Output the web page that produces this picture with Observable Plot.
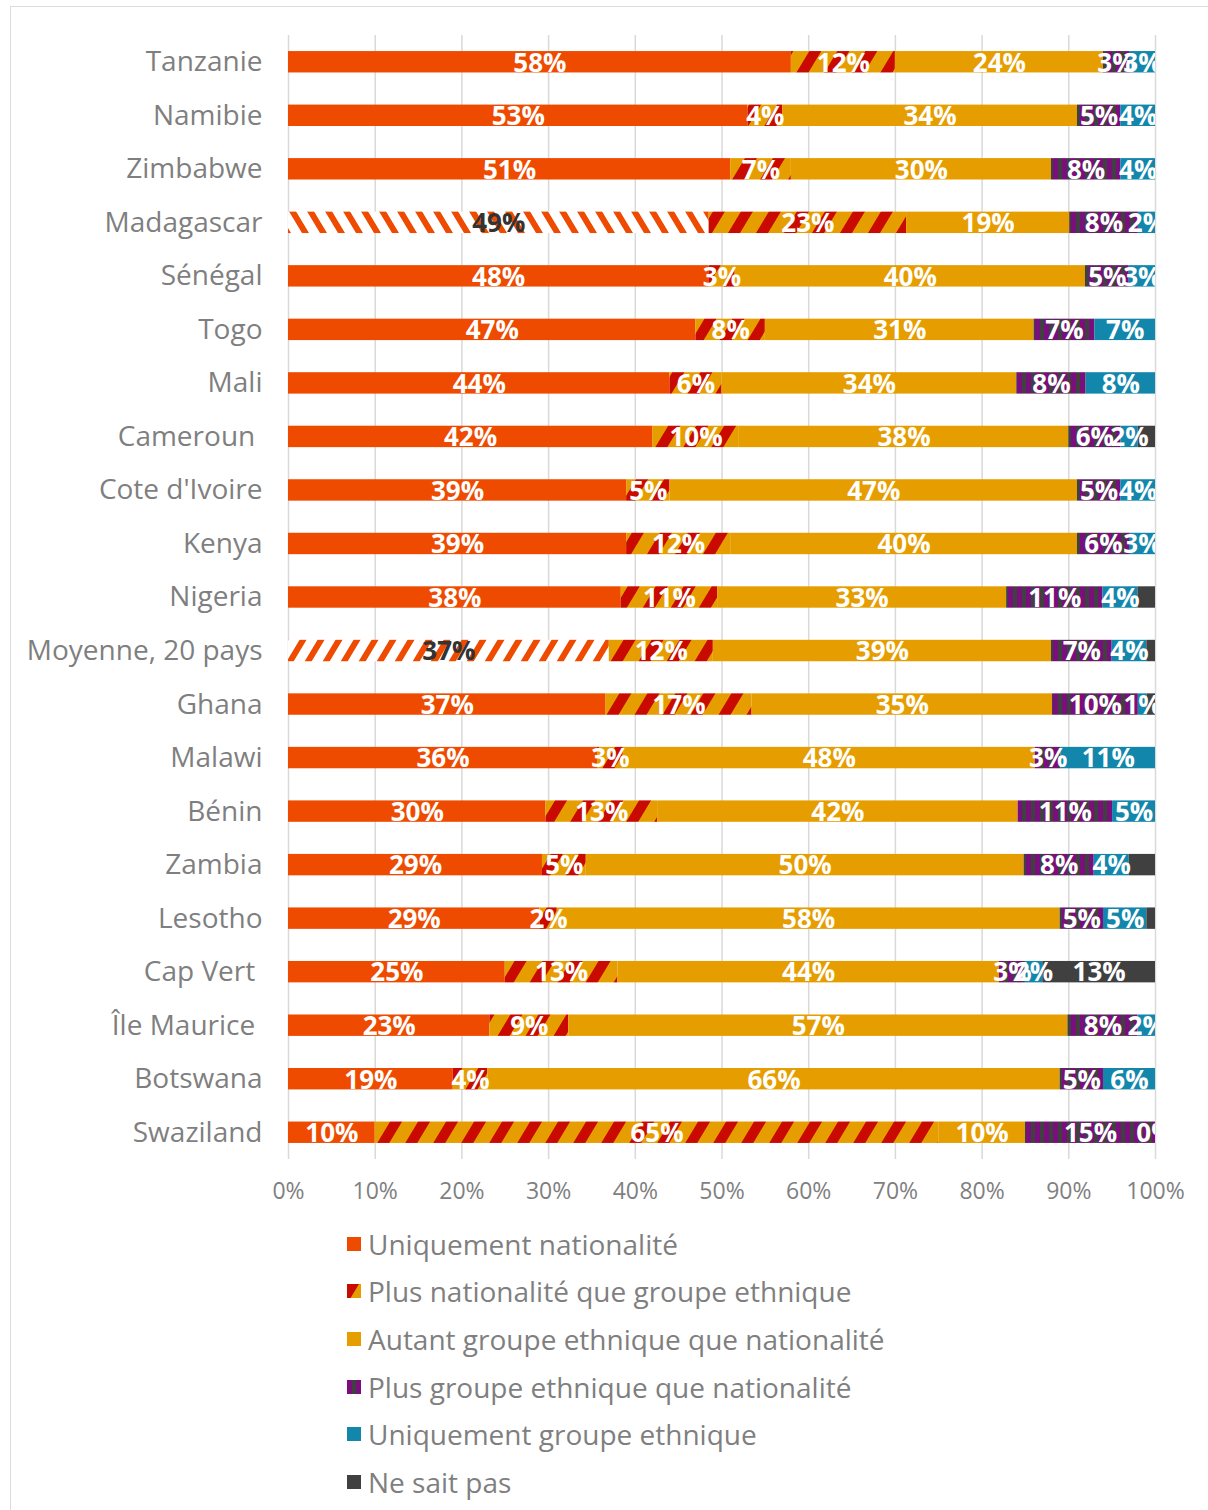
<!DOCTYPE html>
<html><head><meta charset="utf-8">
<script src="https://cdn.jsdelivr.net/npm/d3@7"></script>
<script src="https://cdn.jsdelivr.net/npm/@observablehq/plot@0.6"></script>
<style>
html,body{margin:0;padding:0;background:#fff;width:1208px;height:1510px;overflow:hidden;position:relative;font-family:"Open Sans",sans-serif;}
#frame{position:absolute;left:10px;top:6px;width:1230px;height:1540px;border:1.5px solid #dcdcdc;box-sizing:border-box;}
#chart{position:absolute;left:0;top:0;}
#legend{position:absolute;left:347px;top:1220px;}
.item{display:flex;align-items:center;height:47.6px;font-size:28px;color:#7f7f7f;white-space:nowrap;}
.item svg{width:14px;height:14px;margin-right:7px;flex:none;}
</style></head><body>
<svg width="0" height="0" style="position:absolute"><defs>
<pattern id="pNat" patternUnits="userSpaceOnUse" width="28" height="28" patternTransform="skewX(-31)">
  <rect width="28" height="28" fill="#E69D00"/><rect width="12" height="28" fill="#C80A00"/>
</pattern>
<pattern id="pEth" patternUnits="userSpaceOnUse" width="9" height="9">
  <rect width="9" height="9" fill="#7A0E7C"/><rect x="5" width="4" height="9" fill="#404040"/>
</pattern>
<pattern id="pHatchBack" patternUnits="userSpaceOnUse" width="18" height="18" patternTransform="skewX(31)">
  <rect width="18" height="18" fill="#ffffff"/><rect width="7" height="18" fill="#EE4B00"/>
</pattern>
<pattern id="pHatchFwd" patternUnits="userSpaceOnUse" width="18" height="18" patternTransform="skewX(-31)">
  <rect width="18" height="18" fill="#ffffff"/><rect width="7" height="18" fill="#EE4B00"/>
</pattern>
</defs></svg>
<div id="frame"></div>
<div id="chart"></div>
<div id="legend"></div>
<script>
const countries = ["Tanzanie","Namibie","Zimbabwe","Madagascar","Sénégal","Togo","Mali","Cameroun\u00a0","Cote d'Ivoire","Kenya","Nigeria","Moyenne, 20 pays","Ghana","Malawi","Bénin","Zambia","Lesotho","Cap Vert\u00a0","Île Maurice\u00a0","Botswana","Swaziland"];
const seriesNames = ["Uniquement nationalité","Plus nationalité que groupe ethnique","Autant groupe ethnique que nationalité","Plus groupe ethnique que nationalité","Uniquement groupe ethnique","Ne sait pas"];
const uniqNat = [58,53,51,49,48,47,44,42,39,39,38,37,37,36,30,29,29,25,23,19,10];
const plusNat = [12,4,7,23,3,8,6,10,5,12,11,12,17,3,13,5,2,13,9,4,65];
const autant  = [24,34,30,19,40,31,34,38,47,40,33,39,35,48,42,50,58,44,57,66,10];
const plusEth = [3,5,8,8,5,7,8,6,5,6,11,7,10,3,11,8,5,3,8,5,15];
const uniqEth = [3,4,4,2,3,7,8,2,4,3,4,4,1,11,5,4,5,2,2,6,0];
const nsp     = [0,0,0,0,0,0,0,2,0,0,2,1,1,0,0,3,1,13,0,0,0];
const xTicks = [0,0.1,0.2,0.3,0.4,0.5,0.6,0.7,0.8,0.9,1];

const seriesValues = [uniqNat, plusNat, autant, plusEth, uniqEth, nsp];
const seriesFills = ["#EE4B00","url(#pNat)","#E69D00","url(#pEth)","#1386AB","#404040"];
const hatchedRows = new Map([["Madagascar","url(#pHatchBack)"],["Moyenne, 20 pays","url(#pHatchFwd)"]]);

const data = [];
countries.forEach((c, i) => seriesNames.forEach((s, j) => {
  const v = seriesValues[j][i];
  const hatched = j === 0 && hatchedRows.has(c);
  data.push({
    country: c, series: s, value: v,
    fill: hatched ? hatchedRows.get(c) : seriesFills[j],
    label: (j === 5 && v < 5) ? "" : v + "%",
    labelFill: hatched ? "#333333" : "#ffffff"
  });
}));

const chart = Plot.plot({
  width: 1208, height: 1215,
  marginTop: 35, marginBottom: 56, marginLeft: 288, marginRight: 53,
  style: {fontFamily: "'Open Sans', sans-serif", background: "transparent"},
  x: {domain: [0, 1]},
  y: {domain: countries, paddingInner: 0.6, paddingOuter: 0.3, round: false},
  color: {type: "identity"},
  marks: [
    Plot.gridX(xTicks, {stroke: "#d9d9d9", strokeOpacity: 1, strokeWidth: 1.5}),
    Plot.barX(data, Plot.stackX({x: "value", y: "country", z: "series", fill: "fill", offset: "normalize"})),
    Plot.text(data, Plot.stackX({x: "value", y: "country", z: "series", text: "label", fill: "labelFill",
      offset: "normalize", fontSize: 26, fontWeight: 700, dy: 1, clip: true})),
    Plot.axisX(xTicks, {tickFormat: d3.format(".0%"), tickSize: 0, tickPadding: 23, fontSize: 23, color: "#7f7f7f", label: null}),
    Plot.axisY({tickSize: 0, tickPadding: 26, fontSize: 28, color: "#7f7f7f", label: null})
  ]
});
document.getElementById("chart").appendChild(chart);

const legend = document.getElementById("legend");
seriesNames.forEach((s, j) => {
  const item = document.createElement("div");
  item.className = "item";
  item.innerHTML = `<svg viewBox="0 0 14 14"><rect width="14" height="14" fill="${seriesFills[j]}"/></svg><span></span>`;
  item.querySelector("span").textContent = s;
  legend.appendChild(item);
});
</script></body></html>
